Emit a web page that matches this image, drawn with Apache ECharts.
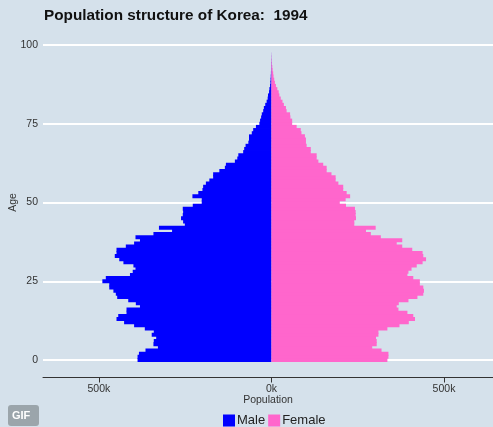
<!DOCTYPE html>
<html><head><meta charset="utf-8">
<style>html,body{margin:0;padding:0;background:#d5e1eb}#c{width:493px;height:427px}</style>
<script src="https://cdn.jsdelivr.net/npm/echarts@6/dist/echarts.min.js"></script>
</head><body><div id="c"></div>
<script>
const title = 'Population structure of Korea:  1994';
const xTicks = [-500, 0, 500];
const ages = [];
for (let a = -5; a <= 105; a++) ages.push(String(a));
// population in thousands, index = age
const male = [388,388,384,365,329,342,341,334,347,341,367,398,427,449,444,420,420,381,393,415,447,451,458,470,470,490,480,410,402,394,400,429,441,454,449,449,422,398,381,394,342,288,326,251,256,262,257,256,257,228,202,
  202,229,212,200,198,190,180,169,169,151,135,132,106,99,96,82,79,75,67,65,65,57,53,45,35,33,30,28,24,22,18,14,11,10,7,6,4,3,2.5,2,1.5,1.2,1,0.8,0.5,0.3,0.2];
const female = [336,339,339,319,292,305,305,303,310,310,336,371,398,416,411,394,368,363,369,397,423,440,442,440,430,430,411,394,397,406,421,438,448,440,438,408,379,363,379,317,288,274,302,240,240,245,244,244,242,216,198,
  215,228,218,208,208,194,186,186,174,160,160,150,136,131,131,114,114,102,100,100,97,87,85,73,60,60,55,54,44,42,36,32,27,23,21,17,13,10,8,6,5,3.5,2.5,1.5,1,0.6,0.3];
const showAge = (i, v) => Number(v) >= 0 && Number(v) % 25 === 0;
const chart = echarts.init(document.getElementById('c'), null, {renderer: 'canvas'});
chart.setOption({
  animation: false,
  backgroundColor: '#d5e1eb',
  textStyle: {fontFamily: '"Liberation Sans", Arial, sans-serif'},
  title: {text: title, left: 44, top: 8, padding: 0,
    textStyle: {fontSize: 15.3, fontWeight: 'bold', color: '#111', fontFamily: '"Liberation Sans", Arial, sans-serif'}},
  grid: {left: 43, right: 0, top: 29.25, bottom: 51.25, containLabel: false, outerBoundsMode: 'none'},
  xAxis: {type: 'value', min: -662, max: 642, offset: 1.75,
    name: 'Population', nameLocation: 'middle', nameGap: 23, nameMoveOverlap: false,
    nameTextStyle: {fontSize: 10.5, color: '#333', verticalAlign: 'middle'},
    axisLine: {show: true, onZero: false, lineStyle: {color: '#333', width: 1}},
    axisTick: {show: true, length: 5, lineStyle: {color: '#333'}, customValues: xTicks},
    axisLabel: {fontSize: 10.5, color: '#333', margin: 6, customValues: xTicks,
      formatter: v => Math.abs(v) + 'k'},
    splitLine: {show: false}},
  yAxis: {type: 'category', data: ages, boundaryGap: false,
    name: 'Age', nameLocation: 'middle', nameGap: 30, nameMoveOverlap: false,
    nameTextStyle: {fontSize: 10.5, color: '#333', verticalAlign: 'middle'},
    axisLine: {show: false}, axisTick: {show: false},
    axisLabel: {fontSize: 10.5, color: '#333', margin: 5, interval: showAge},
    splitLine: {show: true, interval: showAge, lineStyle: {color: '#ffffff', width: 2}}},
  legend: {left: 223, top: 414, padding: 0, itemWidth: 12, itemHeight: 12, itemGap: 3,
    selectedMode: false, icon: 'rect',
    textStyle: {fontSize: 13, color: '#222', padding: [1, 0, 0, -3]},
    data: ['Male', 'Female']},
  series: [
    {name: 'Male', type: 'bar', barWidth: 4, barGap: '-100%', itemStyle: {color: '#0000ff'},
      data: male.map((v, i) => [-v, String(i)])},
    {name: 'Female', type: 'bar', barWidth: 4, barGap: '-100%', itemStyle: {color: '#ff66cc'},
      data: female.map((v, i) => [v, String(i)])}
  ],
  graphic: [
    {type: 'rect', left: 8, top: 405, shape: {width: 31, height: 21, r: 3}, style: {fill: '#9ba5ab'}},
    {type: 'text', left: 12, top: 410, style: {text: 'GIF', fill: '#fff', font: 'bold 11px "Liberation Sans", Arial, sans-serif'}}
  ]
});
</script></body></html>
